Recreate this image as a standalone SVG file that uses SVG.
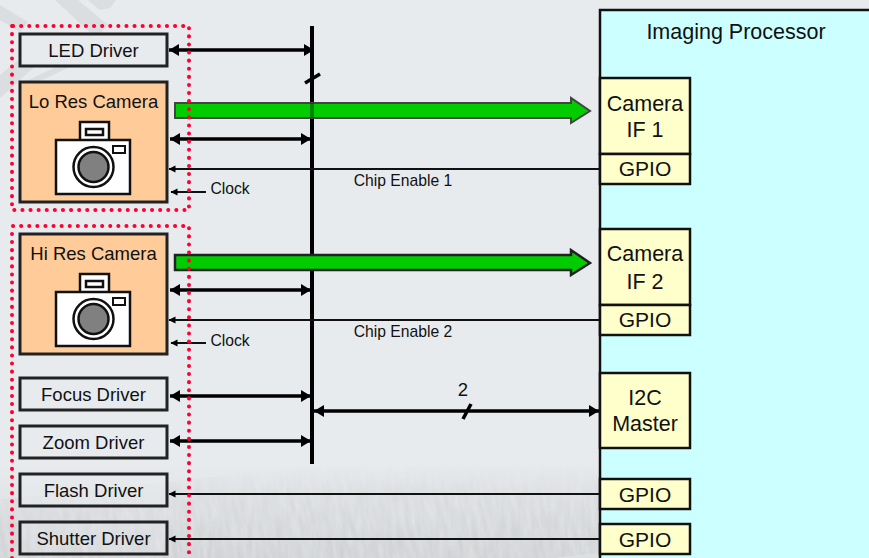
<svg xmlns="http://www.w3.org/2000/svg" width="869" height="558" viewBox="0 0 869 558">
<style>
text{font-family:"Liberation Sans",Arial,sans-serif;fill:#111;text-anchor:middle}
.t13{font-size:18.500px}.t12{font-size:15.700px}.t20{font-size:21.500px}.t18{font-size:21px}
.box{fill:#e8ebee;stroke:#222;stroke-width:3}
.cam{fill:#ffcc99;stroke:#222;stroke-width:3}
.blk{fill:#ffffcc;stroke:#111;stroke-width:2.500}
.bold{stroke:#000;stroke-width:3.500;fill:none;marker-start:url(#hL);marker-end:url(#hR)}
.thin{stroke:#111;stroke-width:1.800;fill:none;marker-end:url(#hS)}
.green{fill:#00cc00;stroke:#222;stroke-width:2.500}
.dots{fill:none;stroke:#ff0033;stroke-width:4;stroke-linecap:round;stroke-dasharray:.1 8}
</style>
<defs>
<marker id="hR" markerUnits="userSpaceOnUse" markerWidth="11" markerHeight="13" refX="10" refY="6" orient="auto"><path d="M0 0L10 6L0 12z" fill="#000"/></marker>
<marker id="hL" markerUnits="userSpaceOnUse" markerWidth="11" markerHeight="13" refX="0" refY="6" orient="auto"><path d="M10 0L0 6L10 12z" fill="#000"/></marker>
<marker id="hS" markerUnits="userSpaceOnUse" markerWidth="8" markerHeight="8" refX="6.500" refY="3.500" orient="auto"><path d="M0 0L7 3.500L0 7z" fill="#000"/></marker>
<linearGradient id="fade" x1="0" y1="0" x2="0" y2="1"><stop offset="0" stop-color="#fff" stop-opacity="0"/><stop offset=".35" stop-color="#fff" stop-opacity=".5"/><stop offset="1" stop-color="#fff"/></linearGradient>
<mask id="fadeMask" maskUnits="userSpaceOnUse" x="0" y="465" width="869" height="93"><rect y="465" width="869" height="93" fill="url(#fade)"/></mask>
<filter id="grain" x="0" y="0" width="1" height="1" color-interpolation-filters="sRGB"><feTurbulence type="fractalNoise" baseFrequency="0.2 0.04" numOctaves="3" seed="7"/><feColorMatrix type="matrix" values="0 0 0 0 .78  0 0 0 0 .79  0 0 0 0 .80  1.100 0 0 0 -.2"/></filter>
<g id="camera">
<rect x="60" y="0" width="29" height="19" fill="#fff" stroke="#111" stroke-width="2.500"/>
<rect x="66" y="7" width="17" height="6" fill="#fff" stroke="#111" stroke-width="2.500"/>
<rect x="36" y="18" width="74" height="54" fill="#fff" stroke="#111" stroke-width="2.500"/>
<rect x="93" y="24" width="12" height="7" fill="#fff" stroke="#111" stroke-width="2"/>
<circle cx="73.500" cy="45" r="20" fill="#fff" stroke="#111" stroke-width="2.500"/>
<circle cx="73.500" cy="45" r="15" fill="#808080" stroke="#111" stroke-width="2.500"/>
</g>
</defs>
<g id="background">
<rect width="869" height="558" fill="#e8ebee"/>
<rect y="465" width="869" height="93" fill="#dcdee0" mask="url(#fadeMask)"/>
<g mask="url(#fadeMask)"><rect x="-40" y="455" width="950" height="115" filter="url(#grain)" transform="rotate(-6 430 510)"/></g>
<path d="M55 0H78L108 25L96 38zM0 5L28 22L20 32L0 20zM30 50L42 60L0 98V75zM58 66H72L38 82H24zM88 0H116L110 8L100 10z" fill="#dbdee1"/>
</g>
<g id="imaging-processor"><rect x="600" y="10" width="280" height="560" fill="#ccffff" stroke="#111" stroke-width="2.500"/><text class="t20" x="736" y="39">Imaging Processor</text></g>
<g id="connectors">
<line x1="312" y1="26" x2="312" y2="464" stroke="#000" stroke-width="4"/>
<line x1="305" y1="83" x2="320" y2="74" stroke="#000" stroke-width="3.500"/>
<path class="bold" d="M169 50H314"/>
<path class="bold" d="M170 139H311"/>
<path class="bold" d="M170 290H311"/>
<path class="bold" d="M170 396H311"/>
<path class="bold" d="M170 441H311"/>
<path class="bold" d="M314 411H599"/>
<line x1="463" y1="419" x2="471" y2="404" stroke="#000" stroke-width="3.500"/>
<path class="thin" d="M600 169H169"/>
<path class="thin" d="M600 320H169"/>
<path class="thin" d="M600 494H169"/>
<path class="thin" d="M600 539H169"/>
<path class="thin" d="M206 192H171"/>
<path class="thin" d="M206 343H171"/>
<path class="green" style="stroke:#444;stroke-width:2" d="M175 103H571V98L590 111L571 123V118H175z"/>
<path class="green" d="M175 255H571V250L590 263L571 275V270H175z"/>
<line x1="312" y1="103" x2="312" y2="118" stroke="#000" stroke-width="4" opacity=".35"/>
</g>
<g id="red-group-1"><path class="dots" d="M13 26H189V210H12V26"/></g>
<g id="red-group-2"><path class="dots" d="M13 226H189V558M12 558V226"/></g>
<g id="led-driver"><rect class="box" x="20" y="34" width="147" height="32"/><text class="t13" x="93.500" y="57">LED Driver</text></g>
<g id="lo-res-camera"><rect class="cam" x="20" y="82" width="147" height="120"/><text class="t13" x="93.500" y="108">Lo Res Camera</text><use href="#camera" x="20" y="122"/></g>
<g id="hi-res-camera"><rect class="cam" x="20" y="234" width="147" height="120"/><text class="t13" x="93.500" y="260">Hi Res Camera</text><use href="#camera" x="20" y="274"/></g>
<g id="focus-driver"><rect class="box" x="20" y="378" width="147" height="32"/><text class="t13" x="93.500" y="401">Focus Driver</text></g>
<g id="zoom-driver"><rect class="box" x="20" y="426" width="147" height="32"/><text class="t13" x="93.500" y="449">Zoom Driver</text></g>
<g id="flash-driver"><rect class="box" x="20" y="474" width="147" height="32" fill-opacity=".6"/><text class="t13" x="93.500" y="497">Flash Driver</text></g>
<g id="shutter-driver"><rect class="box" x="20" y="522" width="147" height="32" fill-opacity=".3"/><text class="t13" x="93.500" y="545">Shutter Driver</text></g>
<g id="camera-if-1"><rect class="blk" x="600" y="78" width="90" height="76"/><text class="t20" x="645" y="111">Camera</text><text class="t20" x="645" y="137">IF 1</text></g>
<g id="gpio-1"><rect class="blk" x="600" y="154" width="90" height="30"/><text class="t18" x="645" y="176">GPIO</text></g>
<g id="camera-if-2"><rect class="blk" x="600" y="229" width="90" height="76"/><text class="t20" x="645" y="261">Camera</text><text class="t20" x="645" y="289">IF 2</text></g>
<g id="gpio-2"><rect class="blk" x="600" y="305" width="90" height="30"/><text class="t18" x="645" y="327">GPIO</text></g>
<g id="i2c-master"><rect class="blk" x="600" y="373" width="90" height="75"/><text class="t20" x="645" y="405">I2C</text><text class="t20" x="645" y="431">Master</text></g>
<g id="gpio-3"><rect class="blk" x="600" y="479" width="90" height="30"/><text class="t18" x="645" y="502">GPIO</text></g>
<g id="gpio-4"><rect class="blk" x="600" y="524" width="90" height="30"/><text class="t18" x="645" y="547">GPIO</text></g>
<g id="labels">
<text class="t12" x="230" y="194">Clock</text><text class="t12" x="230" y="346">Clock</text>
<text class="t12" x="403" y="186">Chip Enable 1</text><text class="t12" x="403" y="337">Chip Enable 2</text>
<text class="t13" x="463" y="396">2</text>
</g>
</svg>
